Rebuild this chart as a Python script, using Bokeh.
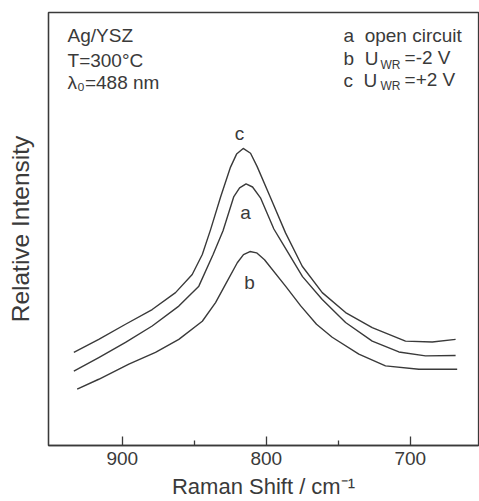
from bokeh.plotting import figure
from bokeh.models import Range1d, FixedTicker, Label
from bokeh.embed import file_html
from bokeh.resources import INLINE

# ---- data ----
shift_c = [933.6, 916.3, 897.7, 879.2, 863.0, 851.4, 844.4, 838.7, 831.7, 824.8, 820.6, 816.0,
           810.9, 806.3, 797.0, 786.6, 775.0, 761.1, 744.9, 726.4, 703.3, 684.7, 668.5]
int_c = [21.5, 24.5, 28.0, 31.4, 35.3, 39.5, 44.1, 49.8, 57.4, 64.3, 67.3, 68.6,
         67.5, 64.4, 57.2, 49.1, 41.4, 35.3, 30.7, 27.2, 24.1, 23.9, 24.5]

shift_a = [933.6, 916.3, 897.7, 879.2, 860.7, 846.8, 836.9, 830.0, 822.5, 818.5, 814.0,
           809.5, 804.0, 794.7, 788.9, 774.8, 761.1, 744.9, 726.4, 707.9, 689.4, 668.5]
int_a = [17.2, 20.3, 23.8, 27.6, 32.2, 36.8, 44.1, 49.6, 57.5, 59.5, 60.4,
         59.7, 57.2, 50.0, 46.8, 39.0, 33.7, 28.4, 24.1, 21.6, 20.7, 20.8]

shift_b = [931.3, 916.3, 895.4, 876.9, 860.7, 844.4, 835.2, 828.3, 820.1, 815.8, 811.3,
           806.7, 801.2, 786.6, 776.2, 765.1, 754.2, 735.7, 717.2, 694.0, 667.4]
int_b = [13.0, 15.3, 18.8, 21.5, 24.5, 28.7, 33.0, 37.2, 42.2, 44.1, 44.8,
         44.5, 42.9, 36.8, 32.3, 28.0, 25.0, 21.1, 18.4, 17.6, 17.6]

x_ticks = [900, 800, 700]
x_minor = [850, 750]
x_label = "Raman Shift / cm\u207b\u00b9"
y_label = "Relative Intensity"

FONT = "Liberation Sans"
INK = "#3a3a3a"

p = figure(width=479, height=501, output_backend="svg", toolbar_location=None,
           x_range=Range1d(951.2, 652.6), y_range=Range1d(0, 100),
           min_border_left=48, min_border_right=1, min_border_top=12,
           min_border_bottom=54)
p.background_fill_color = "white"
p.border_fill_color = "white"
p.outline_line_color = INK
p.outline_line_width = 1.3
p.grid.visible = False

xa = p.xaxis[0]
xa.ticker = FixedTicker(ticks=x_ticks, minor_ticks=x_minor)
xa.major_tick_in = 9
xa.major_tick_out = 0
xa.minor_tick_in = 5
xa.minor_tick_out = 0
xa.axis_line_color = INK
xa.axis_line_width = 1.3
xa.major_tick_line_color = INK
xa.major_tick_line_width = 1.3
xa.minor_tick_line_color = INK
xa.minor_tick_line_width = 1.3
xa.major_label_text_font = FONT
xa.major_label_text_font_size = "19px"
xa.major_label_text_color = INK
xa.major_label_standoff = 6
xa.axis_label = x_label
xa.axis_label_text_font = FONT
xa.axis_label_text_font_size = "22px"
xa.axis_label_text_font_style = "normal"
xa.axis_label_text_color = INK
xa.axis_label_standoff = 6

ya = p.yaxis[0]
ya.ticker = FixedTicker(ticks=[])
ya.major_tick_line_color = None
ya.minor_tick_line_color = None
ya.major_label_text_font_size = "0px"
ya.axis_line_color = INK
ya.axis_line_width = 1.3
ya.axis_label = y_label
ya.axis_label_text_font = FONT
ya.axis_label_text_font_size = "24.5px"
ya.axis_label_text_font_style = "normal"
ya.axis_label_text_color = INK
ya.axis_label_standoff = 15

for xs, ys in ((shift_c, int_c), (shift_a, int_a), (shift_b, int_b)):
    p.line(xs, ys, line_color=INK, line_width=1.4, line_join="round")


# helpers: reference-picture pixel -> data coordinates (annotation placement)
def dx(px):
    return 900 - (px - 121.7) / 1.44


def dy(py):
    return (446.7 - py) / 4.35


def lab(text, px, py, size="19px", align="left"):
    p.add_layout(Label(x=dx(px), y=dy(py), text=text, text_font=FONT,
                       text_font_size=size, text_color=INK,
                       text_align=align, text_baseline="middle"))


NB = "\u00a0"
lab("Ag/YSZ", 67, 35)
lab("T=300\u00b0C", 67, 60)
lab("\u03bb\u2080=488 nm", 67, 82)

lab("a" + NB * 2 + "open circuit", 343, 35)
lab("b" + NB * 2 + "U", 343, 58)
lab("WR", 380, 64, size="12px")
lab("=-2 V", 404, 57)
lab("c" + NB * 2 + "U", 343, 80)
lab("WR", 380, 86, size="12px")
lab("=+2 V", 404, 79)

lab("c", 239, 133, align="center")
lab("a", 245, 213, align="center")
lab("b", 249, 283, align="center")

open("out.html", "w").write(file_html(p, INLINE))
